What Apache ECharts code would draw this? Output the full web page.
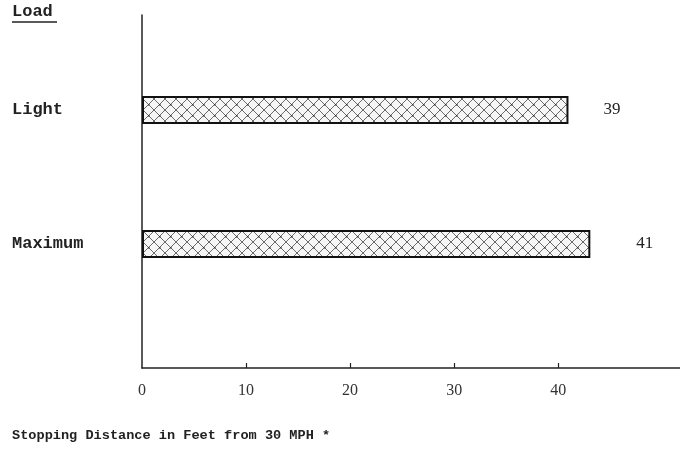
<!DOCTYPE html>
<html>
<head>
<meta charset="utf-8">
<script src="https://cdn.jsdelivr.net/npm/echarts@6/dist/echarts.min.js"></script>
<style>html,body{margin:0;padding:0;background:#fff;}#c{width:680px;height:451px;}</style>
</head>
<body>
<div id="c"></div>
<script>
const categories = ['Light', 'Maximum'];
const distances = [39, 41];
const tickLabels = [0, 10, 20, 30, 40];
const headerText = 'Load';
const axisTitle = 'Stopping Distance in Feet from 30 MPH *';

function hatch() {
  const c = document.createElement('canvas');
  c.width = 11; c.height = 11;
  const g = c.getContext('2d');
  g.fillStyle = '#f6f6f6';
  g.fillRect(0, 0, 11, 11);
  g.strokeStyle = '#6a6a6a';
  g.lineWidth = 1;
  g.beginPath();
  g.moveTo(0, 0); g.lineTo(11, 11);
  g.moveTo(11, 0); g.lineTo(0, 11);
  g.stroke();
  g.fillStyle = '#333';
  g.fillRect(5, 5, 1.5, 1.5);
  return c;
}

const chart = echarts.init(document.getElementById('c'));
const mono = 'Liberation Mono';
const serif = 'Liberation Serif';
const labelGaps = [35, 46];

chart.setOption({
  backgroundColor: '#fff',
  animation: false,
  grid: [
    { left: 142, right: 0, top: 43, bottom: 140 },
    { left: 142, right: 0, top: 15, bottom: 83 }
  ],
  xAxis: [
    { gridIndex: 0, type: 'value', min: 0, max: 49.2, show: false },
    {
      gridIndex: 1, type: 'value', min: 0, max: 51.7, interval: 10,
      axisLine: { show: true, lineStyle: { color: '#222', width: 1.5 } },
      axisTick: { show: true, inside: true, length: 5, customValues: tickLabels.slice(1), lineStyle: { color: '#222', width: 1.2 } },
      axisLabel: { customValues: tickLabels, margin: 15, color: '#333', fontFamily: serif, fontSize: 16 },
      splitLine: { show: false }
    }
  ],
  yAxis: [
    {
      gridIndex: 0, type: 'category', inverse: true, data: categories,
      axisLine: { show: false }, axisTick: { show: false },
      axisLabel: { align: 'left', margin: 130, color: '#222', fontFamily: mono, fontWeight: 'bold', fontSize: 17 }
    },
    {
      gridIndex: 1, type: 'value', min: 0, max: 1,
      axisLine: { show: true, onZero: false, lineStyle: { color: '#222', width: 1.5 } },
      axisTick: { show: false }, axisLabel: { show: false }, splitLine: { show: false }
    }
  ],
  series: [{
    type: 'bar',
    xAxisIndex: 0, yAxisIndex: 0,
    barWidth: 28,
    data: distances.map((v, i) => ({
      value: v,
      label: { distance: labelGaps[i] }
    })),
    itemStyle: {
      color: { image: hatch(), repeat: 'repeat' },
      borderColor: '#111', borderWidth: 2
    },
    label: {
      show: true, position: 'right', color: '#222',
      fontFamily: serif, fontSize: 17
    }
  }],
  graphic: [
    { type: 'text', left: 12, top: 3, style: { text: headerText, font: 'bold 17px "Liberation Mono"', fill: '#222' } },
    { type: 'line', shape: { x1: 12, y1: 22, x2: 57, y2: 22 }, style: { stroke: '#222', lineWidth: 1.5 } },
    { type: 'text', left: 12, top: 429, style: { text: axisTitle, font: 'bold 13.6px "Liberation Mono"', fill: '#222' } }
  ]
});
</script>
</body>
</html>
